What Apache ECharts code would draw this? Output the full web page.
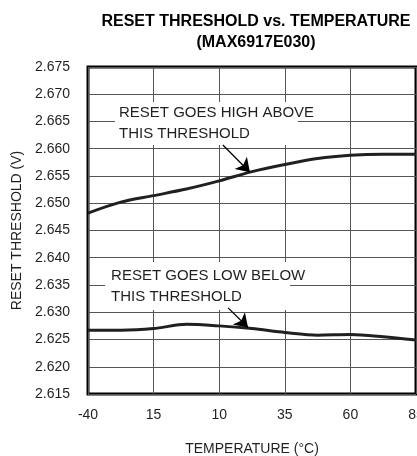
<!DOCTYPE html>
<html>
<head>
<meta charset="utf-8">
<script src="https://cdn.jsdelivr.net/npm/echarts@6/dist/echarts.min.js"></script>
<style>
html,body{margin:0;padding:0;background:#fff;}
#chart{width:417px;height:456px;}
</style>
</head>
<body>
<div id="chart"></div>
<script>
// ---- data ----
var titleLines = ['RESET THRESHOLD vs. TEMPERATURE', '(MAX6917E030)'];
var xTickValues = [-40, -15, 10, 35, 60, 85];
var xTickLabels = ['-40', '15', '10', '35', '60', '85'];
var xAxisName = 'TEMPERATURE (°C)';
var yAxisName = 'RESET THRESHOLD (V)';

var tempsHigh = [-40, -27.5, -15, -2.5, 10, 22.5, 35, 47.5, 60, 72.5, 85];
var highThreshold = [2.6482, 2.6502, 2.6514, 2.6526, 2.6541, 2.6558, 2.6571, 2.6582, 2.6588, 2.6590, 2.6590];

var tempsLow = [-40, -27.5, -15, -2.5, 10, 22.5, 35, 47.5, 60, 72.5, 85];
var lowThreshold = [2.6267, 2.6267, 2.6270, 2.6278, 2.6275, 2.6270, 2.6263, 2.6258, 2.6259, 2.6255, 2.6249];

var noteHighLines = ['RESET GOES HIGH ABOVE', 'THIS THRESHOLD'];
var noteHighBox = [[-29.7, 2.6686], [40.0, 2.6607]];
var noteHighArrow = [[11.4, 2.6607], [21.7, 2.6557]];

var noteLowLines = ['RESET GOES LOW BELOW', 'THIS THRESHOLD'];
var noteLowBox = [[-33.5, 2.6392], [37.0, 2.6304]];
var noteLowArrow = [[13.4, 2.6308], [21.0, 2.6272]];

// ---- chart ----
var FONT = "'Liberation Sans', Arial, sans-serif";
var INK = '#231f20';

function pairs(xs, ys) { return xs.map(function (x, i) { return [x, ys[i]]; }); }

var chart = echarts.init(document.getElementById('chart'), null, {renderer: 'canvas'});

function arrowLine(pts) {
  return {
    silent: true,
    symbol: ['none', 'arrow'],
    symbolSize: 13,
    label: {show: false},
    lineStyle: {color: '#000', width: 1.3, type: 'solid'},
    itemStyle: {color: '#000'},
    emphasis: {disabled: true},
    data: [[{coord: pts[0]}, {coord: pts[1]}]]
  };
}

var option = {
  animation: false,
  backgroundColor: '#fff',
  textStyle: {fontFamily: FONT, color: INK},
  title: {
    text: titleLines.join('\n'),
    left: 251,
    top: 6,
    textAlign: 'center',
    textStyle: {fontFamily: FONT, fontSize: 16, fontWeight: 'bold', color: '#000', lineHeight: 21}
  },
  grid: {
    left: 88, right: 1, top: 67, bottom: 62,
    containLabel: false,
    outerBoundsMode: 'none',
    show: true, borderColor: '#000', borderWidth: 3, backgroundColor: 'transparent'
  },
  xAxis: {
    type: 'value',
    min: -40, max: 85, interval: 25,
    name: xAxisName,
    nameLocation: 'middle',
    nameGap: 48,
    nameTextStyle: {fontFamily: FONT, fontSize: 14, color: INK},
    axisLine: {show: false},
    axisTick: {show: false},
    axisLabel: {
      margin: 14,
      fontFamily: FONT, fontSize: 14, color: INK,
      formatter: function (v) {
        var i = xTickValues.indexOf(Math.round(v));
        return i >= 0 ? xTickLabels[i] : '';
      }
    },
    splitLine: {show: true, lineStyle: {color: '#555', width: 1}}
  },
  yAxis: {
    type: 'value',
    min: 2.615, max: 2.675, interval: 0.005,
    name: yAxisName,
    nameLocation: 'middle',
    nameGap: 60,
    nameTextStyle: {fontFamily: FONT, fontSize: 14, color: INK},
    axisLine: {show: false},
    axisTick: {show: false},
    axisLabel: {
      margin: 18,
      fontFamily: FONT, fontSize: 14, color: INK,
      formatter: function (v) { return v.toFixed(3); }
    },
    splitLine: {show: true, lineStyle: {color: '#555', width: 1}}
  },
  series: [
    {
      type: 'line',
      name: 'high',
      data: pairs(tempsHigh, highThreshold),
      smooth: 0.3,
      showSymbol: false,
      lineStyle: {color: INK, width: 3},
      z: 3
    },
    {
      type: 'line',
      name: 'low',
      data: pairs(tempsLow, lowThreshold),
      smooth: 0.3,
      showSymbol: false,
      lineStyle: {color: INK, width: 3},
      z: 3
    },
    {
      type: 'line', name: 'arrowHigh', data: [], z: 5,
      markLine: arrowLine(noteHighArrow)
    },
    {
      type: 'line', name: 'arrowLow', data: [], z: 5,
      markLine: arrowLine(noteLowArrow)
    }
  ]
};
chart.setOption(option);

function noteGraphic(box, lines, padLeft) {
  var p0 = chart.convertToPixel({gridIndex: 0}, box[0]);
  var p1 = chart.convertToPixel({gridIndex: 0}, box[1]);
  var w = p1[0] - p0[0], h = p1[1] - p0[1];
  return {
    type: 'group',
    x: p0[0], y: p0[1],
    z: 10,
    children: [
      {type: 'rect', shape: {x: 0, y: 0, width: w, height: h}, style: {fill: '#fff'}},
      {
        type: 'text',
        x: padLeft, y: h / 2,
        style: {
          text: lines.join('\n'),
          font: '15px ' + FONT,
          fill: INK,
          lineHeight: 21,
          verticalAlign: 'middle',
          align: 'left'
        }
      }
    ]
  };
}

chart.setOption({
  graphic: [
    noteGraphic(noteHighBox, noteHighLines, 4),
    noteGraphic(noteLowBox, noteLowLines, 6)
  ]
});
</script>
</body>
</html>
